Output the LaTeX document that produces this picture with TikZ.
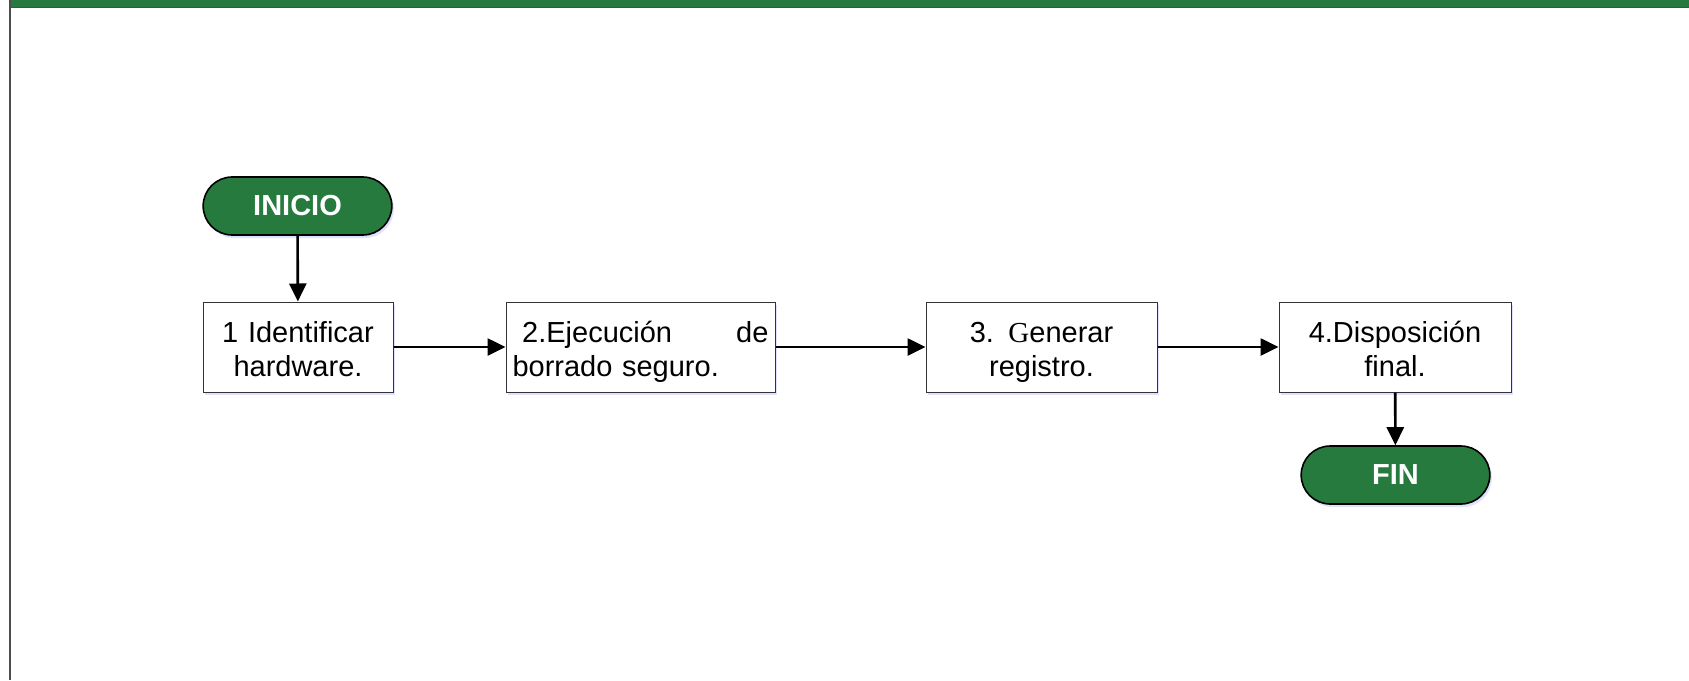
\documentclass[tikz,border=0pt]{standalone}
\usepackage{fontspec}
\setmainfont{Liberation Sans}
\newfontfamily\serifG{Liberation Serif}
\usetikzlibrary{shapes,arrows.meta,shadows}
\definecolor{flowgreen}{RGB}{39,122,62}
\definecolor{framegray}{RGB}{77,77,77}
\newcommand\boxtop{\rule{0pt}{16pt}}
\newcommand\boxbot{\rule[-3.1pt]{0pt}{3.1pt}}

\begin{document}
\begin{tikzpicture}[x=0.5pt,y=-0.5pt,->,>={Triangle[length=9pt,width=8.5pt]},line width=1.3pt]
\tikzstyle{every node}=[font=\fontsize{14.5}{17}\selectfont]
\tikzstyle{terminal}=[rounded rectangle,draw=black,line width=0.8pt,fill=flowgreen,text=white,
  font=\fontsize{14.5}{17}\selectfont\bfseries,minimum width=101pt,minimum height=29pt,
  drop shadow={shadow xshift=1pt,shadow yshift=-1.5pt,fill=blue!20!white,opacity=0.6}]
\tikzstyle{stepbox}=[rectangle,draw=black!80,line width=0.5pt,fill=white,align=center,
  minimum height=45pt,inner sep=3.25pt,
  execute at begin node=\boxtop,execute at end node=\boxbot,
  drop shadow={shadow xshift=1pt,shadow yshift=-1.5pt,fill=blue!20!white,opacity=0.6}]
\useasboundingbox (0,0) rectangle (1689,680);
% frame
\fill[flowgreen] (10,0) rectangle (1689,7);
\draw[-,framegray,line width=0.5pt] (10,7.5) -- (1689,7.5);
\fill[framegray] (9,0) rectangle (11,680);
% flow
\node[terminal] (inicio) at (297.5,206) {INICIO};
\node[stepbox,text width=88.5pt] (s1) at (298,347) {1 Identificar\\hardware.};
\node[stepbox,text width=128pt,align=left] (s2) at (640.5,347) {\ 2.Ejecución\hfill de\\borrado seguro.};
\node[stepbox,text width=109pt] (s3) at (1041.5,347) {3. {\serifG G}enerar\\registro.};
\node[stepbox,text width=109.5pt] (s4) at (1395,347) {4.Disposición\\final.};
\node[terminal] (fin) at (1395.5,475) {FIN};
\path (inicio) edge (s1)
      (s1) edge (s2)
      (s2) edge (s3)
      (s3) edge (s4)
      (s4) edge (fin);
\end{tikzpicture}
\end{document}
